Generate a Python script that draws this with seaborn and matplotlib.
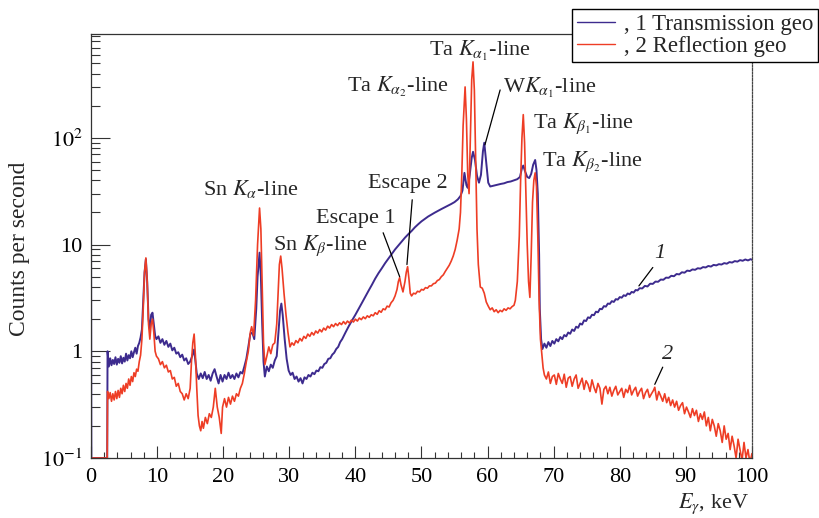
import matplotlib
matplotlib.use("Agg")
import matplotlib.pyplot as plt
import seaborn as sns
from matplotlib.ticker import FixedLocator, FixedFormatter, MultipleLocator, LogLocator, NullFormatter
from matplotlib.lines import Line2D

# spectrum 1: transmission geometry
trans_energy = [
    0.0, 0.05, 2.45, 2.5, 2.7, 2.9, 3.1, 3.3, 3.5, 3.7, 3.9, 4.1, 4.3, 4.5, 4.7, 4.9,
    5.1, 5.3, 5.5, 5.7, 5.9, 6.1, 6.3, 6.5, 6.7, 6.9, 7.1, 7.3, 7.5, 7.7, 7.9, 8.1,
    8.3, 8.5, 8.7, 8.9, 9.1, 9.3, 9.5, 9.7, 9.9, 10.2, 10.5, 10.8, 11.1, 11.4, 11.7,
    12.0, 12.3, 12.6, 12.9, 13.2, 13.5, 13.8, 14.1, 14.4, 14.7, 15.0, 15.3, 15.6,
    15.8, 16.0, 16.3, 16.6, 16.9, 17.2, 17.5, 17.8, 18.1, 18.4, 18.7, 19.0, 19.3,
    19.6, 19.9, 20.2, 20.5, 20.8, 21.1, 21.4, 21.7, 22.0, 22.3, 22.6, 22.9, 23.2,
    23.5, 23.8, 24.1, 24.4, 24.7, 25.0, 25.2, 25.5, 25.7, 25.9, 26.1, 26.3, 26.6,
    26.9, 27.2, 27.5, 27.8, 28.1, 28.4, 28.6, 28.8, 29.0, 29.3, 29.6, 29.9, 30.2,
    30.5, 30.8, 31.1, 31.4, 31.7, 32.0, 32.3, 32.6, 32.9, 33.2, 33.5, 33.8, 34.1,
    34.4, 34.7, 35.0, 35.3, 35.6, 35.9, 36.2, 36.5, 36.8, 37.1, 37.4, 37.7, 38.0,
    38.5, 39.0, 39.5, 40.0, 40.5, 41.0, 41.5, 42.0, 42.5, 43.0, 43.5, 44.0, 44.5,
    45.0, 45.5, 46.0, 46.5, 47.0, 47.5, 48.0, 48.5, 49.0, 49.5, 50.0, 50.5, 51.0,
    51.5, 52.0, 52.5, 53.0, 53.5, 54.0, 54.5, 55.0, 55.5, 55.9, 56.2, 56.5, 56.8,
    57.0, 57.3, 57.6, 57.8, 58.1, 58.4, 58.7, 59.0, 59.3, 59.5, 59.8, 60.1, 60.4,
    60.8, 61.2, 61.6, 62.0, 62.5, 63.0, 63.5, 64.0, 64.5, 64.9, 65.2, 65.4, 65.7,
    66.0, 66.3, 66.6, 66.9, 67.2, 67.4, 67.6, 67.8, 67.9, 68.1, 68.3, 68.6, 68.9,
    69.2, 69.5, 69.8, 70.1, 70.4, 70.7, 71.0, 71.3, 71.6, 71.9, 72.2, 72.5, 72.8,
    73.1, 73.4, 73.7, 74.0, 74.3, 74.6, 74.9, 75.2, 75.5, 75.8, 76.1, 76.4, 76.7,
    77.0, 77.3, 77.6, 77.9, 78.2, 78.5, 78.8, 79.1, 79.4, 79.7, 80.0, 80.3, 80.6,
    80.9, 81.2, 81.5, 81.8, 82.1, 82.4, 82.7, 83.0, 83.4, 83.8, 84.2, 84.6, 85.0,
    85.4, 85.8, 86.2, 86.6, 87.0, 87.4, 87.8, 88.2, 88.6, 89.0, 89.4, 89.8, 90.2,
    90.6, 91.0, 91.4, 91.8, 92.2, 92.6, 93.0, 93.4, 93.8, 94.2, 94.6, 95.0, 95.4,
    95.8, 96.2, 96.6, 97.0, 97.4, 97.8, 98.2, 98.6, 99.0, 99.4, 99.8, 100.0,
]
trans_counts = [
    22, 0.1, 0.1, 1.0, 0.72, 0.86, 0.74, 0.83, 0.76, 0.88, 0.75, 0.85, 0.78, 0.9, 0.77, 0.87,
    0.8, 0.95, 0.82, 0.92, 0.86, 1.0, 0.88, 0.98, 1.08, 0.95, 1.12, 1.2, 1.35, 1.6, 3.0, 5.5,
    7.3, 4.5, 2.0, 1.6, 2.2, 2.3, 1.8, 1.4, 1.3, 1.38, 1.2, 1.3, 1.15, 1.25, 1.1,
    1.18, 1.02, 1.08, 0.95, 0.98, 0.88, 0.93, 0.82, 0.86, 0.76, 0.8, 0.9, 1.04,
    0.8, 0.62, 0.55, 0.62, 0.56, 0.64, 0.55, 0.6, 0.53, 0.62, 0.68, 0.58, 0.5,
    0.6, 0.52, 0.6, 0.55, 0.63, 0.56, 0.6, 0.55, 0.62, 0.57, 0.64, 0.62, 0.72,
    0.85, 1.1, 1.45, 1.5, 1.3, 2.5, 5.0, 8.4, 5.0, 1.8, 0.8, 0.58, 0.72,
    0.65, 0.75, 0.7, 0.82, 0.9, 1.6, 2.4, 2.8, 2.2, 1.3, 0.85, 0.66, 0.6,
    0.63, 0.55, 0.58, 0.52, 0.56, 0.5, 0.57, 0.55, 0.6, 0.58, 0.63, 0.61, 0.66,
    0.65, 0.71, 0.7, 0.76, 0.78, 0.85, 0.86, 0.93, 0.97, 1.05, 1.1, 1.22, 1.3,
    1.5, 1.72, 1.95, 2.2, 2.5, 2.85, 3.25, 3.7, 4.2, 4.8, 5.4, 6.0, 6.7,
    7.4, 8.2, 9.0, 9.8, 10.7, 11.6, 12.5, 13.4, 14.5, 15.5, 16.5, 17.4, 18.3,
    19.1, 19.9, 20.7, 21.5, 22.3, 23.1, 24.0, 25.0, 26.5, 28.5, 32, 47, 36,
    34, 45, 65, 74, 62, 44, 38, 45, 75, 90, 58, 38, 35,
    35.5, 36, 36.5, 37, 37.5, 38.5, 39, 40, 41, 43, 52, 55, 48,
    43, 42, 46, 56, 62, 50, 30, 8, 2.5, 1.3, 1.05, 1.18, 1.08,
    1.22, 1.12, 1.25, 1.18, 1.3, 1.24, 1.36, 1.3, 1.42, 1.38, 1.5, 1.46, 1.6,
    1.55, 1.7, 1.66, 1.82, 1.78, 1.95, 1.92, 2.08, 2.05, 2.2, 2.18, 2.35, 2.32,
    2.5, 2.48, 2.65, 2.62, 2.8, 2.78, 2.95, 2.9, 3.08, 3.05, 3.22, 3.18, 3.35,
    3.3, 3.48, 3.42, 3.6, 3.55, 3.75, 3.72, 3.9, 3.88, 4.1, 4.05, 4.3, 4.28,
    4.5, 4.48, 4.7, 4.68, 4.9, 4.88, 5.1, 5.05, 5.3, 5.25, 5.5, 5.45, 5.7,
    5.65, 5.85, 5.8, 6.0, 5.95, 6.15, 6.1, 6.3, 6.22, 6.45, 6.38, 6.55, 6.5,
    6.7, 6.62, 6.85, 6.78, 7.0, 6.92, 7.15, 7.05, 7.25, 7.1, 7.3, 7.2,
]

# spectrum 2: reflection geometry
refl_energy = [
    0.0, 2.45, 2.5, 2.7, 2.9, 3.1, 3.3, 3.5, 3.7, 3.9, 4.1, 4.3, 4.5, 4.7, 4.9, 5.1,
    5.3, 5.5, 5.7, 5.9, 6.1, 6.3, 6.5, 6.7, 6.9, 7.1, 7.3, 7.5, 7.7, 7.9, 8.1, 8.3,
    8.5, 8.7, 8.9, 9.1, 9.3, 9.5, 9.7, 9.9, 10.2, 10.5, 10.8, 11.1, 11.4, 11.7, 12.0,
    12.3, 12.6, 12.9, 13.2, 13.5, 13.8, 14.1, 14.4, 14.7, 15.0, 15.2, 15.4, 15.6,
    15.8, 16.0, 16.2, 16.4, 16.6, 16.8, 17.0, 17.3, 17.6, 17.9, 18.2, 18.5, 18.8,
    19.1, 19.4, 19.7, 19.9, 20.2, 20.5, 20.8, 21.1, 21.4, 21.7, 22.0, 22.3, 22.6,
    22.9, 23.2, 23.5, 23.8, 24.1, 24.3, 24.6, 24.9, 25.2, 25.5, 25.7, 25.9, 26.1,
    26.3, 26.6, 26.9, 27.2, 27.5, 27.8, 28.1, 28.3, 28.5, 28.7, 28.9, 29.2, 29.5,
    29.8, 30.1, 30.4, 30.7, 31.0, 31.3, 31.6, 31.9, 32.2, 32.5, 32.8, 33.1, 33.4,
    33.7, 34.0, 34.3, 34.6, 34.9, 35.2, 35.5, 35.8, 36.1, 36.4, 36.7, 37.0, 37.3,
    37.6, 37.9, 38.2, 38.5, 38.8, 39.1, 39.4, 39.7, 40.0, 40.3, 40.6, 40.9, 41.2,
    41.5, 41.8, 42.1, 42.4, 42.7, 43.0, 43.3, 43.6, 43.9, 44.2, 44.5, 44.8, 45.1,
    45.4, 45.7, 46.0, 46.3, 46.5, 46.7, 46.9, 47.2, 47.5, 47.7, 47.9, 48.1, 48.3,
    48.5, 48.8, 49.1, 49.4, 49.7, 50.0, 50.3, 50.6, 50.9, 51.2, 51.5, 51.8, 52.1,
    52.4, 52.7, 53.0, 53.3, 53.6, 53.9, 54.2, 54.5, 54.8, 55.1, 55.4, 55.7, 55.9,
    56.1, 56.3, 56.6, 56.8, 57.0, 57.2, 57.4, 57.6, 57.8, 58.0, 58.2, 58.4, 58.6,
    58.9, 59.2, 59.5, 59.8, 60.1, 60.4, 60.7, 61.0, 61.3, 61.6, 61.9, 62.2, 62.5,
    62.8, 63.1, 63.4, 63.7, 64.0, 64.2, 64.5, 64.8, 65.0, 65.2, 65.4, 65.6, 65.8,
    66.0, 66.2, 66.4, 66.6, 66.8, 67.0, 67.2, 67.4, 67.6, 67.8, 68.0, 68.2, 68.4,
    68.6, 68.9, 69.2, 69.5, 69.8, 70.1, 70.4, 70.7, 71.0, 71.3, 71.6, 71.9, 72.2,
    72.5, 72.8, 73.1, 73.4, 73.7, 74.0, 74.3, 74.6, 74.9, 75.2, 75.5, 75.8, 76.1,
    76.4, 76.7, 77.0, 77.3, 77.6, 77.9, 78.2, 78.5, 78.8, 79.1, 79.4, 79.7, 80.0,
    80.3, 80.6, 80.9, 81.2, 81.5, 81.8, 82.1, 82.4, 82.7, 83.0, 83.3, 83.6, 83.9,
    84.2, 84.5, 84.8, 85.1, 85.3, 85.6, 85.9, 86.2, 86.5, 86.8, 87.1, 87.4, 87.7,
    88.0, 88.3, 88.6, 88.9, 89.2, 89.5, 89.8, 90.1, 90.4, 90.7, 91.0, 91.3, 91.6,
    91.9, 92.2, 92.5, 92.8, 93.1, 93.4, 93.7, 94.0, 94.3, 94.6, 94.9, 95.2, 95.5,
    95.8, 96.1, 96.4, 96.7, 97.0, 97.3, 97.6, 97.9, 98.2, 98.5, 98.8, 99.1, 99.4,
    99.7, 100.0,
]
refl_counts = [
    0.1, 0.1, 0.42, 0.36, 0.41, 0.34, 0.4, 0.35, 0.42, 0.36, 0.43, 0.37, 0.45, 0.4, 0.48, 0.42,
    0.5, 0.45, 0.55, 0.48, 0.58, 0.52, 0.63, 0.58, 0.68, 0.65, 0.8, 0.92, 1.3, 2.5, 5.5, 7.5,
    4.5, 1.8, 1.3, 1.8, 2.0, 1.5, 1.0, 0.9, 0.85, 0.75, 0.8, 0.7, 0.74, 0.64, 0.66,
    0.55, 0.57, 0.47, 0.5, 0.42, 0.4, 0.35, 0.4, 0.36, 0.45, 0.8, 1.2, 1.45,
    0.9, 0.45, 0.25, 0.2, 0.18, 0.22, 0.19, 0.24, 0.21, 0.26, 0.24, 0.3, 0.45,
    0.3, 0.24, 0.17, 0.3, 0.36, 0.3, 0.37, 0.32, 0.38, 0.34, 0.4, 0.38, 0.45,
    0.5, 0.62, 0.8, 1.0, 1.5, 1.7, 1.4, 3.0, 10, 22, 14, 4.0, 1.2,
    0.75, 0.9, 1.1, 0.95, 1.15, 1.2, 1.8, 3.5, 6.5, 7.8, 6.0, 3.5, 2.2,
    1.5, 1.1, 1.2, 1.14, 1.26, 1.2, 1.32, 1.25, 1.38, 1.32, 1.45, 1.38, 1.5,
    1.42, 1.55, 1.48, 1.6, 1.52, 1.65, 1.58, 1.72, 1.65, 1.78, 1.7, 1.82, 1.74,
    1.85, 1.78, 1.9, 1.8, 1.92, 1.84, 1.96, 1.88, 2.0, 1.92, 2.05, 1.98, 2.1,
    2.02, 2.15, 2.08, 2.2, 2.15, 2.3, 2.22, 2.4, 2.32, 2.5, 2.45, 2.65, 2.6,
    2.85, 3.0, 3.3, 3.8, 4.5, 4.9, 4.2, 3.6, 4.5, 5.5, 6.2, 4.8, 3.5,
    3.3, 3.5, 3.45, 3.65, 3.6, 3.8, 3.75, 3.95, 3.9, 4.1, 4.1, 4.3, 4.35,
    4.6, 4.7, 5.0, 5.2, 5.6, 6.0, 6.4, 7.0, 7.8, 9.0, 11, 14, 20,
    45, 130, 300, 150, 45, 30, 100, 350, 515, 280, 60, 14, 6.5,
    4.0, 3.9, 3.5, 2.9, 2.65, 2.45, 2.55, 2.35, 2.45, 2.3, 2.42, 2.35, 2.5,
    2.42, 2.55, 2.5, 2.62, 2.7, 3.0, 4.5, 12, 40, 100, 165, 90, 30,
    10, 4.5, 3.2, 8, 25, 40, 47, 35, 12, 3.0, 1.3, 0.95, 0.7,
    0.6, 0.55, 0.64, 0.5, 0.58, 0.6, 0.49, 0.62, 0.55, 0.5, 0.61, 0.46, 0.56,
    0.58, 0.47, 0.55, 0.6, 0.45, 0.5, 0.56, 0.44, 0.53, 0.49, 0.42, 0.54, 0.46,
    0.41, 0.5, 0.45, 0.32, 0.44, 0.47, 0.4, 0.46, 0.38, 0.43, 0.47, 0.39, 0.42,
    0.45, 0.37, 0.44, 0.41, 0.48, 0.39, 0.43, 0.46, 0.38, 0.42, 0.45, 0.36, 0.41,
    0.44, 0.37, 0.4, 0.43, 0.46, 0.35, 0.42, 0.38, 0.34, 0.4, 0.33, 0.37, 0.31,
    0.35, 0.3, 0.34, 0.28, 0.31, 0.33, 0.26, 0.3, 0.27, 0.24, 0.29, 0.25, 0.28,
    0.22, 0.26, 0.23, 0.27, 0.2, 0.24, 0.18, 0.23, 0.2, 0.16, 0.21, 0.18, 0.14,
    0.2, 0.15, 0.17, 0.12, 0.16, 0.13, 0.1, 0.15, 0.12, 0.095, 0.14, 0.1, 0.12,
    0.09, 0.11,
]

series_labels = [", 1 Transmission geo", ", 2 Reflection geo"]
series_colors = ["#3d2b8e", "#ee3d25"]

x_ticks = [0, 10, 20, 30, 40, 50, 60, 70, 80, 90, 100]
y_ticks = [0.1, 1, 10, 100]
y_tick_labels = ["$10^{-1}$", "1", "10", "$10^{2}$"]

# peak labels: text, left x, baseline y
peak_labels = [
    ("Sn $K_{\\alpha}$-line", 16.9, 29.3),
    ("Sn $K_{\\beta}$-line", 27.5, 8.85),
    ("Escape 1", 34.0, 15.9),
    ("Escape 2", 41.95, 33.9),
    ("Ta $K_{\\alpha_2}$-line", 38.7, 271),
    ("Ta $K_{\\alpha_1}$-line", 51.2, 584),
    ("W$K_{\\alpha_1}$-line", 62.3, 265),
    ("Ta $K_{\\beta_1}$-line", 66.8, 123),
    ("Ta $K_{\\beta_2}$-line", 68.2, 54.7),
]
# leader lines: (x0, y0) -> (x1, y1)
leaders = [
    ((44.2, 12.9), (46.7, 5.0)),
    ((48.6, 26.3), (47.8, 6.5)),
    ((61.9, 281), (59.6, 86)),
    ((85.0, 6.1), (82.9, 4.1)),
    ((86.5, 0.71), (85.3, 0.49)),
]
curve_numbers = [("1", 85.2, 7.5), ("2", 86.4, 0.84)]

sns.set_theme(style="ticks")
plt.rcParams["font.family"] = ["Liberation Serif", "DejaVu Serif"]
plt.rcParams["mathtext.fontset"] = "stix"

fig = plt.figure(figsize=(8.2, 5.18), dpi=100)
ax = fig.add_axes([0.111, 0.1158, 0.806, 0.8184])

sns.lineplot(x=trans_energy, y=trans_counts, ax=ax, color=series_colors[0],
             linewidth=1.4, sort=False, estimator=None)
sns.lineplot(x=refl_energy, y=refl_counts, ax=ax, color=series_colors[1],
             linewidth=1.2, sort=False, estimator=None)

ax.set_yscale("log")
ax.set_xlim(0, 100)
ax.set_ylim(0.1, 938)

ax.xaxis.set_major_locator(FixedLocator(x_ticks))
ax.xaxis.set_minor_locator(MultipleLocator(2))
ax.yaxis.set_major_locator(FixedLocator(y_ticks))
ax.yaxis.set_major_formatter(FixedFormatter(y_tick_labels))
ax.yaxis.set_minor_locator(LogLocator(base=10, subs=range(2, 10), numticks=20))
ax.yaxis.set_minor_formatter(NullFormatter())

ax.tick_params(axis="x", which="major", direction="in", length=8.6, width=0.8,
               labelsize=16, pad=7, colors="#333333", labelcolor="black")
ax.tick_params(axis="x", which="minor", direction="in", length=4.3, width=0.8,
               colors="#333333")
ax.tick_params(axis="y", which="major", direction="in", length=13.5, width=0.8,
               labelsize=16, pad=6, colors="#333333", labelcolor="black")
ax.tick_params(axis="y", which="minor", direction="in", length=6.5, width=0.8,
               colors="#333333")

for side in ["left", "bottom", "top"]:
    ax.spines[side].set_color("#333333")
    ax.spines[side].set_linewidth(0.9)
ax.spines["right"].set_linestyle((0, (1.5, 1.2)))
ax.spines["right"].set_color("#444444")
ax.spines["right"].set_linewidth(0.9)

for txt, x, y in peak_labels:
    ax.text(x, y, txt, fontsize=16, ha="left", va="baseline")
for txt, x, y in curve_numbers:
    ax.text(x, y, txt, fontsize=16, ha="left", va="baseline", style="italic")
for (x0, y0), (x1, y1) in leaders:
    ax.annotate("", xy=(x1, y1), xytext=(x0, y0),
                arrowprops=dict(arrowstyle="-", color="black", lw=0.9,
                                shrinkA=0, shrinkB=0))

fig.text(0.913, 0.019, "$E_{\\gamma}$, keV", fontsize=16, ha="right", va="baseline")
fig.text(0.024, 0.52, "Counts per second", fontsize=17, rotation=90,
         ha="center", va="center")

if ax.get_legend() is not None:
    ax.get_legend().remove()
handles = [Line2D([], [], color=c, lw=1.0) for c in series_colors]
leg = fig.legend(handles, series_labels, loc="upper left",
                 bbox_to_anchor=(0.6976, 0.9826), fontsize=16.5, frameon=True,
                 fancybox=False, edgecolor="black", framealpha=1,
                 handlelength=1.65, handletextpad=0.4, labelspacing=0.05,
                 borderpad=0.22, borderaxespad=0)
leg.get_frame().set_linewidth(1.0)

fig.savefig("out.png", dpi=100)
